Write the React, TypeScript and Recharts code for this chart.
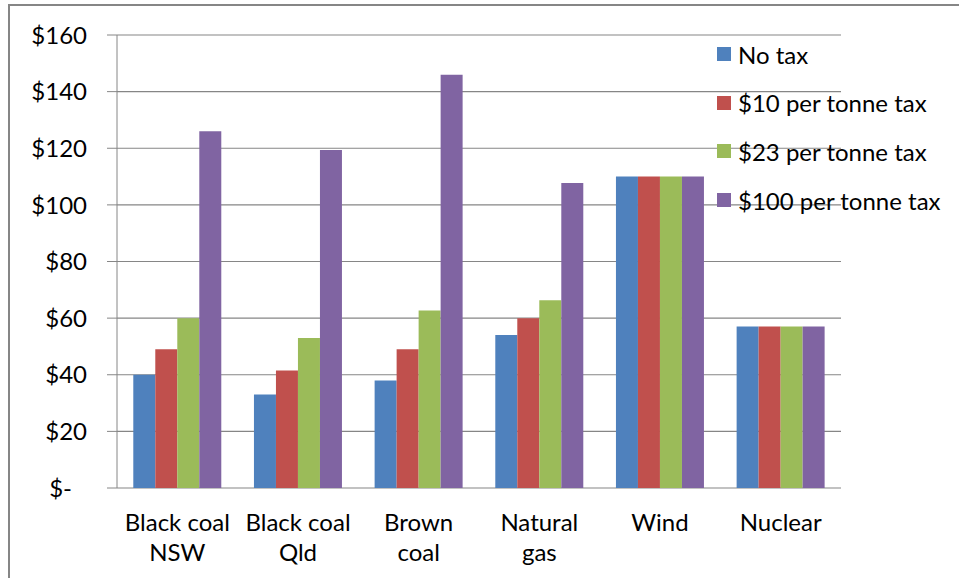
import React from "react";
import { BarChart, Bar, XAxis, YAxis, CartesianGrid, Legend } from "recharts";

const categories = ["Black coal\nNSW", "Black coal\nQld", "Brown\ncoal", "Natural\ngas", "Wind", "Nuclear"];
const noTax = [40, 33, 38, 54, 110, 57];
const tax10 = [49, 41.5, 49, 60, 110, 57];
const tax23 = [60, 53, 62.7, 66.3, 110, 57];
const tax100 = [126, 119.4, 146, 107.7, 110, 57];
const yTicks = [0, 20, 40, 60, 80, 100, 120, 140, 160];
const boundaryTicks = [0, 1, 2, 3, 4, 5, 6];

const seriesNames = ["No tax", "$10 per tonne tax", "$23 per tonne tax", "$100 per tonne tax"];
const seriesKeys = ["noTax", "tax10", "tax23", "tax100"];
const colors = ["#4F81BD", "#C0504D", "#9BBB59", "#8064A2"];

const data = categories.map((name, i) => ({
  name,
  noTax: noTax[i],
  tax10: tax10[i],
  tax23: tax23[i],
  tax100: tax100[i],
}));

const FONT = "Lato, 'Liberation Sans', sans-serif";
const FS = 24;
const GRAY = "#868686";

const YTick = (props: any) => {
  const { x, y, payload } = props;
  const v = payload.value;
  const label = v === 0 ? "$-" : `$${v}`;
  return (
    <text x={v === 0 ? x - 15 : x} y={y} dy="0.36em" textAnchor="end" fontFamily={FONT} fontSize={FS} fill="#000">
      {label}
    </text>
  );
};

const XTick = (props: any) => {
  const { x, y, payload } = props;
  const lines = String(payload.value).split("\n");
  return (
    <text x={x} y={y} textAnchor="middle" fontFamily={FONT} fontSize={FS} fill="#000">
      {lines.map((l, i) => (
        <tspan key={i} x={x} dy={i === 0 ? "0.95em" : 30}>
          {l}
        </tspan>
      ))}
    </text>
  );
};

const LegendContent = () => (
  <div style={{ fontFamily: FONT, fontSize: FS, color: "#000" }}>
    {seriesNames.map((n, i) => (
      <div key={n} style={{ display: "flex", alignItems: "center", height: 48.6, whiteSpace: "nowrap" }}>
        <span style={{ display: "inline-block", width: 14, height: 14, background: colors[i], marginRight: 7 }} />
        <span>{n}</span>
      </div>
    ))}
  </div>
);

export default function App() {
  return (
    <div style={{ position: "absolute", left: 0, top: 0, width: 959, height: 578, overflow: "hidden", background: "#fff" }}>
      <div
        style={{
          position: "absolute",
          left: 8,
          top: 4,
          width: 1100,
          height: 800,
          border: `2px solid ${GRAY}`,
          boxSizing: "border-box",
        }}
      />
      <div style={{ position: "absolute", left: 0, top: 0 }}>
        <BarChart
          width={959}
          height={578}
          data={data}
          margin={{ top: 35, right: 118, left: 8, bottom: 0 }}
          barCategoryGap="13.5%"
          barGap={0}
        >
          <CartesianGrid vertical={false} stroke={GRAY} strokeWidth={1.2} />
          <XAxis
            xAxisId="b"
            type="number"
            domain={[0, 6]}
            ticks={boundaryTicks}
            tick={false}
            tickSize={10}
            height={0}
            stroke={GRAY}
            strokeWidth={1.2}
            axisLine={{ stroke: GRAY }}
          />
          <XAxis
            dataKey="name"
            axisLine={false}
            tickLine={false}
            interval={0}
            height={90}
            tickMargin={14}
            tick={<XTick />}
          />
          <YAxis
            domain={[0, 160]}
            ticks={yTicks}
            width={109}
            tickSize={10}
            tickMargin={20}
            stroke={GRAY}
            tickLine={{ stroke: GRAY }}
            axisLine={{ stroke: GRAY }}
            tick={<YTick />}
          />
          <Legend
            layout="vertical"
            align="center"
            verticalAlign="middle"
            wrapperStyle={{ left: 717, top: 30, width: 240 }}
            content={<LegendContent />}
          />
          {seriesKeys.map((k, i) => (
            <Bar key={k} dataKey={k} name={seriesNames[i]} fill={colors[i]} isAnimationActive={false} />
          ))}
        </BarChart>
      </div>
    </div>
  );
}
